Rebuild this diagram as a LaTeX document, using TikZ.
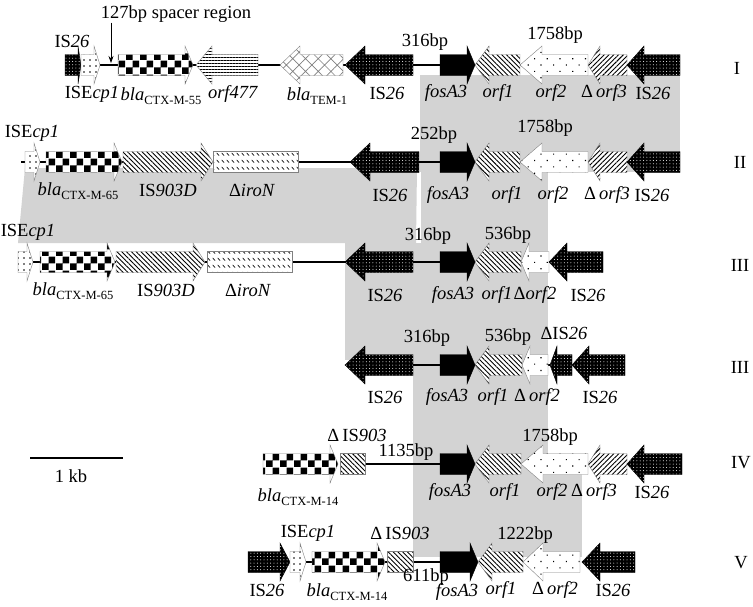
\documentclass[tikz,border=0pt]{standalone}
\usepackage{fontspec}
\setmainfont{Liberation Serif}
\usetikzlibrary{patterns,patterns.meta,arrows.meta}
\pgfdeclarelayer{shadelayer}
\pgfdeclarelayer{bblayer}
\pgfsetlayers{shadelayer,bblayer,main}
\definecolor{shadegray}{RGB}{211,211,211}
\pgfdeclarepatternformonly{bigcheck}{\pgfqpoint{0pt}{0pt}}{\pgfqpoint{14pt}{14pt}}{\pgfqpoint{14pt}{14pt}}{%
  \pgfpathrectangle{\pgfqpoint{0pt}{0pt}}{\pgfqpoint{7pt}{7pt}}%
  \pgfpathrectangle{\pgfqpoint{7pt}{7pt}}{\pgfqpoint{7pt}{7pt}}%
  \pgfusepath{fill}}
\pgfdeclarepatternformonly{irontick}{\pgfqpoint{0pt}{0pt}}{\pgfqpoint{4.5pt}{7pt}}{\pgfqpoint{4.5pt}{7pt}}{%
  \pgfsetlinewidth{0.7pt}%
  \pgfpathmoveto{\pgfqpoint{0.8pt}{5.6pt}}\pgfpathlineto{\pgfqpoint{3.4pt}{2.6pt}}%
  \pgfusepath{stroke}}
\def\gsh{10.5}
\def\ghh{19}
\newcommand{\geneR}[6]{%
  \draw[gene,#6] (#2,{#4-\gsh}) -- ({#3-#5},{#4-\gsh}) -- ({#3-#5},{#4-\ghh}) -- (#3,#4) -- ({#3-#5},{#4+\ghh}) -- ({#3-#5},{#4+\gsh}) -- (#2,{#4+\gsh}) -- cycle;
  \coordinate (#1-w) at (#2,#4);
  \coordinate (#1-e) at (#3,#4);}
\newcommand{\geneL}[6]{%
  \draw[gene,#6] (#3,{#4-\gsh}) -- ({#2+#5},{#4-\gsh}) -- ({#2+#5},{#4-\ghh}) -- (#2,#4) -- ({#2+#5},{#4+\ghh}) -- ({#2+#5},{#4+\gsh}) -- (#3,{#4+\gsh}) -- cycle;
  \coordinate (#1-w) at (#2,#4);
  \coordinate (#1-e) at (#3,#4);}
\newcommand{\genebox}[5]{%
  \draw[gene,#5] (#2,{#4-\gsh}) rectangle (#3,{#4+\gsh});
  \coordinate (#1-w) at (#2,#4);
  \coordinate (#1-e) at (#3,#4);}
\newcommand{\lbl}{\fontsize{18.5}{20}\selectfont}
\newcommand{\isl}[1]{IS\textit{#1}}
\newcommand{\subl}[1]{{\fontsize{12.5}{13}\selectfont\raisebox{-0.3em}{#1}}}
\newcommand{\blal}[1]{\textit{bla}\subl{#1}}
\tikzset{
  gene/.style={line width=0.4pt},
  is26/.style={preaction={fill=black}, pattern={Dots[distance=3.3pt,radius=0.5pt]}, pattern color=white, draw=black},
  isecp/.style={preaction={fill=white}, pattern={Dots[distance=6pt,radius=0.8pt]}, pattern color=black, draw=gray},
  sdots/.style={preaction={fill=white}, pattern={Dots[distance=9pt,angle=45,radius=0.8pt]}, pattern color=black, draw=gray},
  checker/.style={preaction={fill=white}, pattern=bigcheck, pattern color=black, draw=gray},
  nwl/.style={preaction={fill=white}, pattern={Lines[angle=-45,distance=3.4pt,line width=0.9pt]}, pattern color=black, draw=gray},
  nel/.style={preaction={fill=white}, pattern={Lines[angle=45,distance=3.4pt,line width=0.9pt]}, pattern color=black, draw=gray},
  hlines/.style={preaction={fill=white}, pattern={Lines[angle=0,distance=3pt,line width=0.9pt]}, pattern color=black, draw=gray},
  xhatch/.style={preaction={fill=white}, pattern={Hatch[angle=45,distance=9pt,line width=0.7pt]}, pattern color=gray, draw=gray},
  fos/.style={fill=black, draw=black},
  iron/.style={preaction={fill=white}, pattern=irontick, pattern color=black, draw=gray},
  backbone/.style={line width=1.3pt},
  lab/.style={font=\lbl, inner sep=0pt},
}
\begin{document}
\begin{tikzpicture}[x=1pt,y=-1pt]
\useasboundingbox (0,0) rectangle (753,606);
% ---------------- gray homology shading
\begin{pgfonlayer}{shadelayer}
\fill[white] (0,0) rectangle (753,606);
\fill[shadegray] (420,75) -- (680,75) -- (680,172) -- (420,172) -- cycle;
\fill[shadegray] (421,165) -- (548,165) -- (548,265) -- (421,265) -- cycle;
\fill[shadegray] (25,168) -- (417,168) -- (416,243) -- (18,243) -- cycle;
\fill[shadegray] (345,243) -- (548,243) -- (548,360) -- (345,360) -- cycle;
\fill[shadegray] (413,360) -- (548,360) -- (548,470) -- (413,470) -- cycle;
\fill[shadegray] (413,465) -- (582,465) -- (582,557) -- (413,557) -- cycle;
\end{pgfonlayer}
% ---------------- Row I
\geneR{a1}{65}{81}{65}{3}{is26}
\geneR{a2}{81}{100}{65}{6}{isecp}
\geneR{a3}{118}{193}{65}{8}{checker}
\geneL{a4}{196}{258}{65}{16}{hlines}
\geneL{a5}{280}{343}{65}{20}{xhatch}
\geneL{a6}{345}{413}{65}{20}{is26}
\geneR{a7}{440}{475}{65}{8}{fos}
\geneL{a8}{475}{520}{65}{14}{nwl}
\geneL{a9}{520}{588}{65}{22}{sdots}
\geneL{a10}{588}{627}{65}{12}{nel}
\geneL{a11}{627}{680}{65}{17}{is26}
% ---------------- Row II
\coordinate (b0) at (21,162);
\geneR{b1}{25}{40}{162}{6}{isecp}
\geneR{b2}{46}{122}{162}{8}{checker}
\geneR{b3}{123}{213}{162}{12}{nwl}
\genebox{b4}{213}{298}{162}{iron}
\geneL{b5}{350}{419}{162}{20}{is26}
\geneR{b6}{440}{475}{162}{8}{fos}
\geneL{b7}{475}{520}{162}{14}{nwl}
\geneL{b8}{520}{588}{162}{22}{sdots}
\geneL{b9}{588}{627}{162}{12}{nel}
\geneL{b10}{627}{680}{162}{17}{is26}
% ---------------- Row III
\geneR{c1}{18}{33}{262}{6}{isecp}
\geneR{c2}{40}{115}{262}{8}{checker}
\geneR{c3}{116}{205}{262}{12}{nwl}
\genebox{c4}{207}{292}{262}{iron}
\geneL{c5}{345}{413}{262}{20}{is26}
\geneR{c6}{440}{475}{262}{8}{fos}
\geneL{c7}{475}{521}{262}{14}{nwl}
\geneL{c8}{521}{549}{262}{8}{sdots}
\geneL{c9}{549}{603}{262}{18}{is26}
% ---------------- Row III'
\geneL{d1}{345}{413}{365}{20}{is26}
\geneR{d2}{440}{475}{365}{8}{fos}
\geneL{d3}{475}{522}{365}{14}{nwl}
\geneL{d4}{522}{548}{365}{8}{sdots}
\geneL{d5}{550}{572}{365}{7}{is26}
\geneL{d6}{572}{625}{365}{17}{is26}
% ---------------- Row IV
\geneR{e1}{263}{338}{464}{8}{checker}
\genebox{e2}{340}{365}{464}{nwl}
\geneR{e3}{440}{475}{464}{8}{fos}
\geneL{e4}{475}{521}{464}{14}{nwl}
\geneL{e5}{521}{588}{464}{22}{sdots}
\geneL{e6}{588}{627}{464}{12}{nel}
\geneL{e7}{627}{682}{464}{17}{is26}
% ---------------- Row V
\geneR{f1}{248}{290}{562}{10}{is26}
\geneR{f2}{290}{306}{562}{6}{isecp}
\geneR{f3}{312}{385}{562}{8}{checker}
\genebox{f4}{387}{413}{562}{nwl}
\geneR{f5}{440}{478}{562}{8}{fos}
\geneL{f6}{478}{523}{562}{14}{nwl}
\geneL{f7}{523}{580}{562}{20}{sdots}
\geneL{f8}{582}{635}{562}{18}{is26}
% ---------------- backbones
\begin{pgfonlayer}{bblayer}
\draw[backbone] (a1-w) -- (a11-e);
\draw[backbone] (b0) -- (b10-e);
\draw[backbone] (c1-w) -- (c9-w);
\draw[backbone] (d1-e) -- (d5-w);
\draw[backbone] (e2-e) -- (e3-w);
\draw[backbone] (f2-e) -- (f5-w);
\end{pgfonlayer}
% ---------------- labels row I
\node[lab] (spacer) at (176,14) {127bp spacer region};
\coordinate (sp) at (111,63);
\draw[line width=0.8pt,-{Stealth[length=7pt,width=5pt]}] (spacer.south -| sp) -- (sp);
\node[lab] (tI) at (737,68) {I};
\node[lab] (la1) at (72,41) {\isl{26}};
\node[lab] (la2) at (92,94) {ISE\textit{cp1}};
\node[lab] (la3) at (161,96) {\blal{CTX-M-55}};
\node[lab] (la4) at (233,94) {\textit{orf477}};
\node[lab] (la5) at (317,96) {\blal{TEM-1}};
\node[lab] (la6) at (387,93) {\isl{26}};
\node[lab] (la7) at (425,42) {316bp};
\node[lab] (la8) at (555,35) {1758bp};
\node[lab] (la9) at (446,93) {\textit{fosA3}};
\node[lab] (la10) at (498,93) {\textit{orf1}};
\node[lab] (la11) at (551,93) {\textit{orf2}};
\node[lab] (la12) at (604,93) {Δ\,\textit{orf3}};
\node[lab] (la13) at (653,93) {\isl{26}};
% ---------------- labels row II
\node[lab] (tII) at (740,162) {II};
\node[lab] (lb1) at (32,133) {ISE\textit{cp1}};
\node[lab] (lb2) at (78,191) {\blal{CTX-M-65}};
\node[lab] (lb3) at (168,190) {IS\textit{903D}};
\node[lab] (lb4) at (252,190) {Δ\textit{iroN}};
\node[lab] (lb5) at (390,195) {\isl{26}};
\node[lab] (lb6) at (434,135) {252bp};
\node[lab] (lb7) at (545,128) {1758bp};
\node[lab] (lb8) at (448,195) {\textit{fosA3}};
\node[lab] (lb9) at (507,195) {\textit{orf1}};
\node[lab] (lb10) at (553,195) {\textit{orf2}};
\node[lab] (lb11) at (607,195) {Δ\,\textit{orf3}};
\node[lab] (lb12) at (652,195) {\isl{26}};
% ---------------- labels row III
\node[lab] (tIII) at (740,265) {III};
\node[lab] (lc1) at (28,232) {ISE\textit{cp1}};
\node[lab] (lc2) at (73,291) {\blal{CTX-M-65}};
\node[lab] (lc3) at (166,290) {IS\textit{903D}};
\node[lab] (lc4) at (248,290) {Δ\textit{iroN}};
\node[lab] (lc5) at (385,295) {\isl{26}};
\node[lab] (lc6) at (428,236) {316bp};
\node[lab] (lc7) at (508,235) {536bp};
\node[lab] (lc8) at (453,295) {\textit{fosA3}};
\node[lab] (lc9) at (497,295) {\textit{orf1}};
\node[lab] (lc10) at (535,295) {Δ\textit{orf2}};
\node[lab] (lc11) at (588,295) {\isl{26}};
% ---------------- labels row III'
\node[lab] (tIIIb) at (740,367) {III};
\node[lab] (ld1) at (427,338) {316bp};
\node[lab] (ld2) at (508,337) {536bp};
\node[lab] (ld3) at (564,333) {Δ\isl{26}};
\node[lab] (ld4) at (385,397) {\isl{26}};
\node[lab] (ld5) at (447,397) {\textit{fosA3}};
\node[lab] (ld6) at (493,397) {\textit{orf1}};
\node[lab] (ld7) at (537,397) {Δ\,\textit{orf2}};
\node[lab] (ld8) at (600,397) {\isl{26}};
% ---------------- labels row IV
\node[lab] (tIV) at (741,463) {IV};
\node[lab] (le1) at (357,435) {Δ\,\isl{903}};
\node[lab] (le2) at (406,452) {1135bp};
\node[lab] (le3) at (550,437) {1758bp};
\node[lab] (le4) at (298,497) {\blal{CTX-M-14}};
\node[lab] (le5) at (450,492) {\textit{fosA3}};
\node[lab] (le6) at (505,492) {\textit{orf1}};
\node[lab] (le7) at (552,492) {\textit{orf2}};
\node[lab] (le8) at (594,492) {Δ\,\textit{orf3}};
\node[lab] (le9) at (652,492) {\isl{26}};
% ---------------- labels row V
\node[lab] (tV) at (741,563) {V};
\node[lab] (lf1) at (308,533) {ISE\textit{cp1}};
\node[lab] (lf2) at (400,533) {Δ\,\isl{903}};
\node[lab] (lf3) at (426,577) {611bp};
\node[lab] (lf4) at (525,535) {1222bp};
\node[lab] (lf5) at (267,590) {\isl{26}};
\node[lab] (lf6) at (347,592) {\blal{CTX-M-14}};
\node[lab] (lf7) at (457,592) {\textit{fosA3}};
\node[lab] (lf8) at (501,590) {\textit{orf1}};
\node[lab] (lf9) at (555,590) {Δ\,\textit{orf2}};
\node[lab] (lf10) at (613,590) {\isl{26}};
% ---------------- scale bar
\coordinate (sb1) at (30,458);
\coordinate (sb2) at (123,458);
\draw[line width=1.4pt] (sb1) -- (sb2);
\node[lab] (sbl) at (71,476) {1 kb};
\end{tikzpicture}
\end{document}
